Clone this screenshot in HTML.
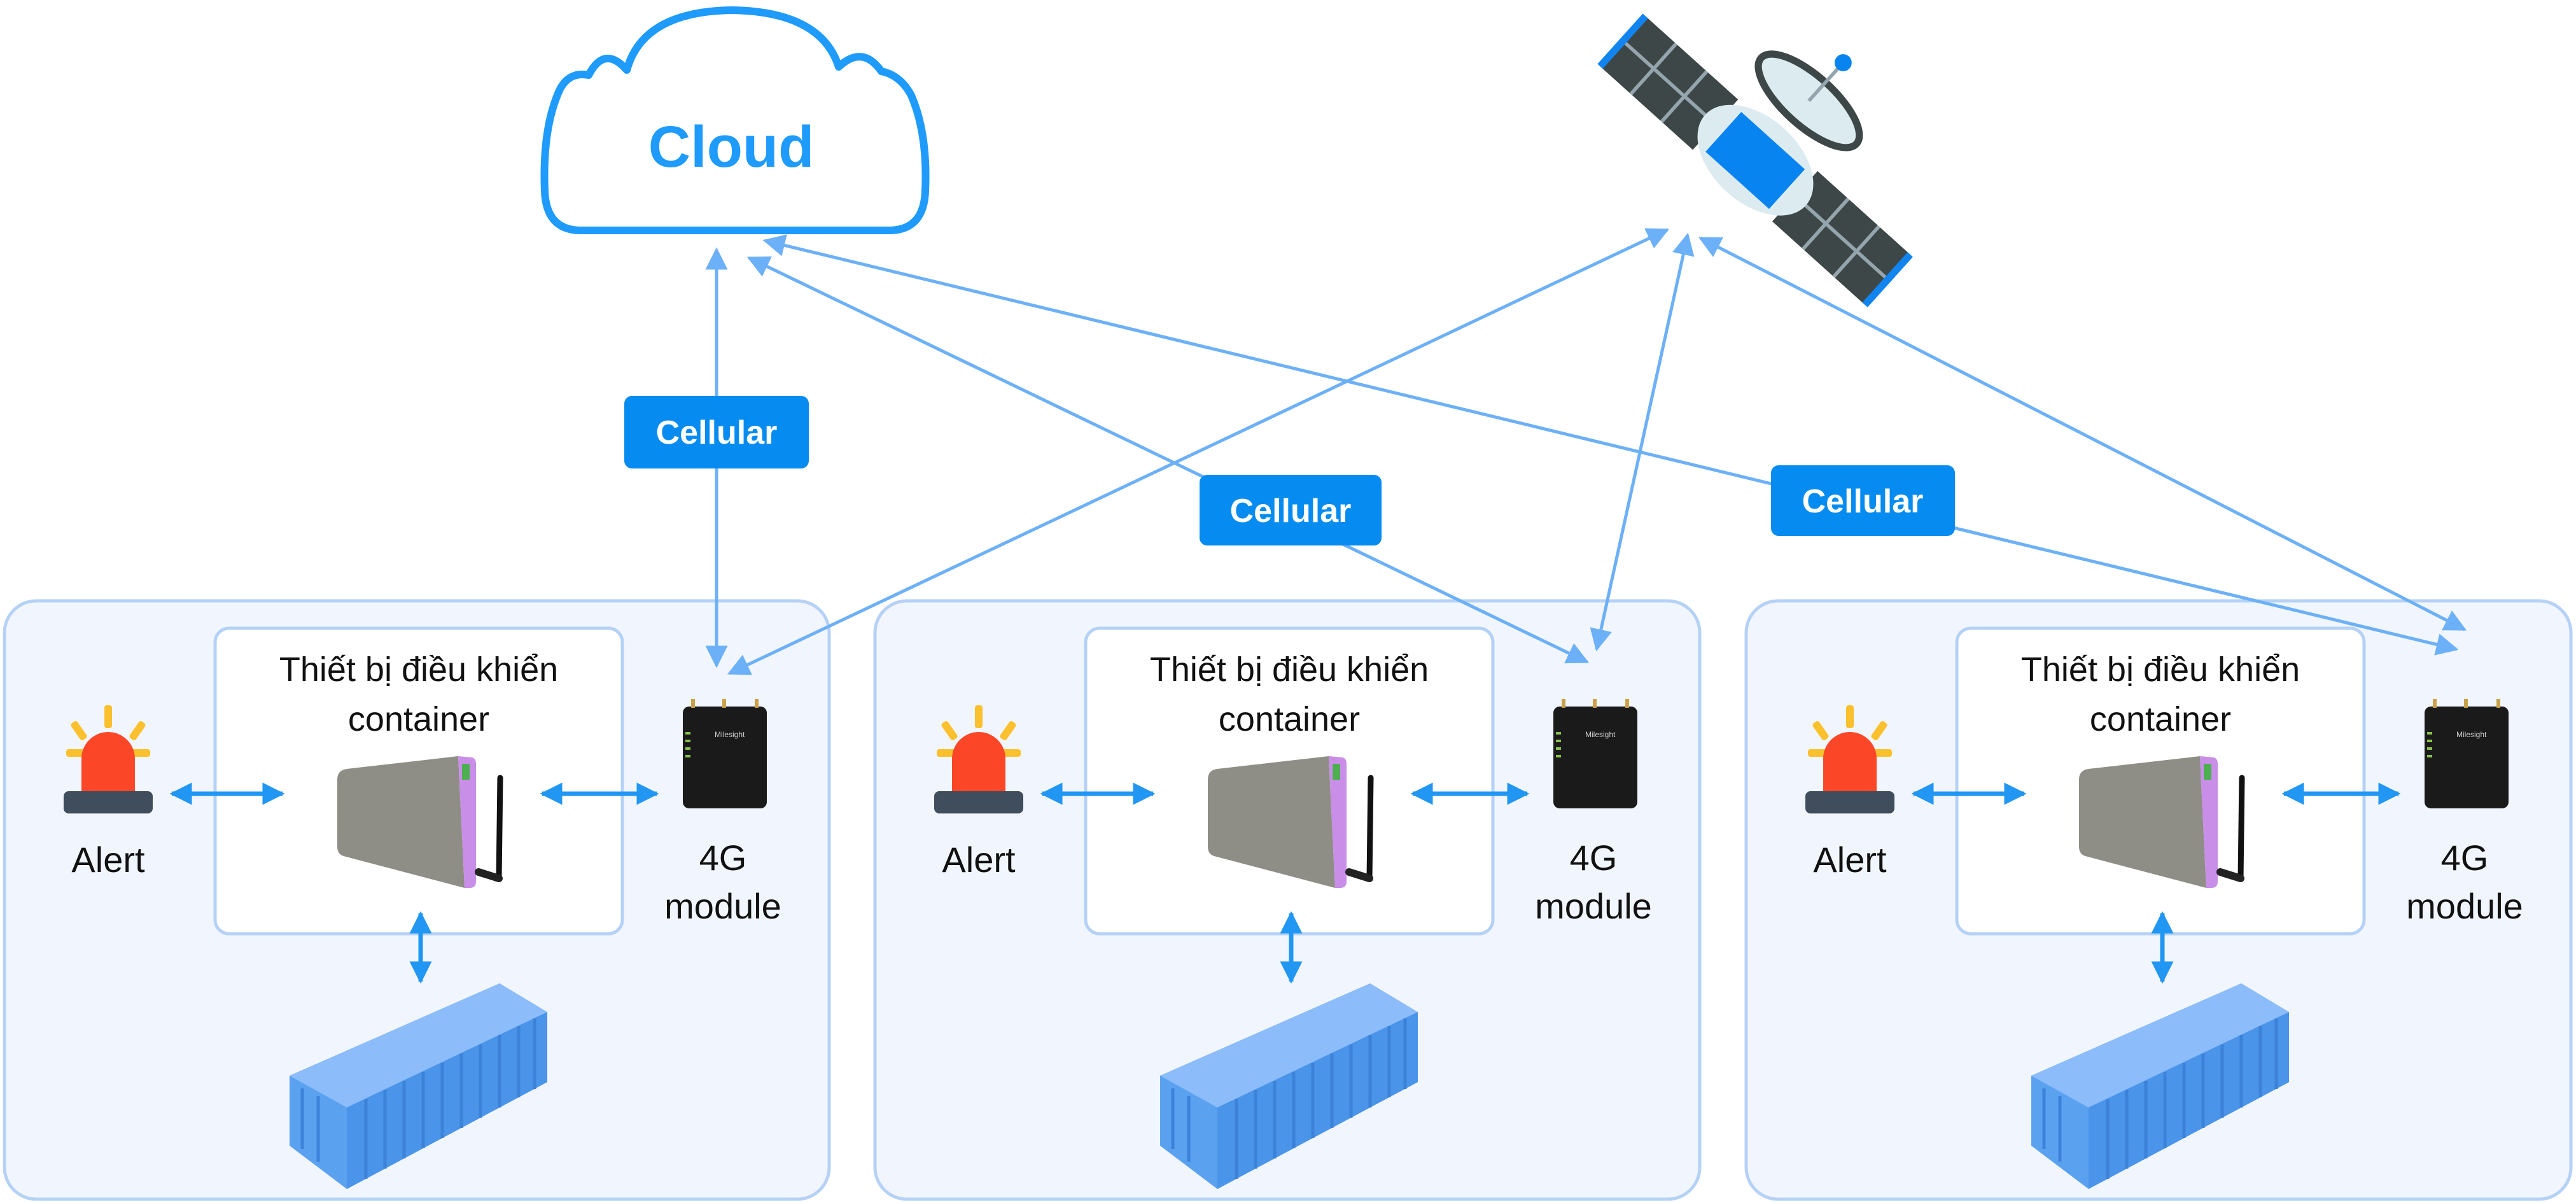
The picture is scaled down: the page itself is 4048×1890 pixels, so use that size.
<!DOCTYPE html>
<html><head><meta charset="utf-8"><style>
html,body{margin:0;padding:0;background:#fff;}
svg{display:block;}
text{font-family:"Liberation Sans",sans-serif;}
</style></head><body>
<svg width="4048" height="1890" viewBox="0 0 4048 1890" xmlns="http://www.w3.org/2000/svg">
<defs>
<marker id="a" viewBox="0 0 10 10" refX="9" refY="5" markerWidth="7" markerHeight="7" orient="auto-start-reverse" markerUnits="strokeWidth">
<path d="M0,0 L10,5 L0,10 Z" fill="#6cb0f8"/></marker>
<marker id="b" viewBox="0 0 10 10" refX="9" refY="5" markerWidth="5" markerHeight="5" orient="auto-start-reverse" markerUnits="strokeWidth">
<path d="M0,0 L10,5 L0,10 Z" fill="#2196f3"/></marker>
<g id="panel">
<rect x="7" y="944" width="1296" height="940" rx="50" fill="#f1f6fe" stroke="#b5d1f6" stroke-width="5"/>
<rect x="338" y="987" width="640" height="480" rx="22" fill="#fff" stroke="#b5d1f6" stroke-width="5"/>
<text x="658" y="1070" font-size="54" text-anchor="middle" fill="#111">Thiết bị điều khiển</text>
<text x="658" y="1148" font-size="54" text-anchor="middle" fill="#111">container</text>
<!-- alert -->
<g fill="#fbc02d">
<rect x="164" y="1108" width="12" height="36" rx="4"/>
<rect x="104" y="1177" width="36" height="12" rx="4"/>
<rect x="200" y="1177" width="36" height="12" rx="4"/>
<rect x="118" y="1132" width="12" height="32" rx="4" transform="rotate(-35 124 1148)"/>
<rect x="210" y="1132" width="12" height="32" rx="4" transform="rotate(35 216 1148)"/>
</g>
<path d="M128,1250 L128,1192 A42,42 0 0 1 212,1192 L212,1250 Z" fill="#fc4628"/>
<rect x="100" y="1243" width="140" height="35" rx="8" fill="#3f4d5c"/>
<text x="170" y="1370" font-size="56" text-anchor="middle" fill="#111">Alert</text>
<!-- arrows -->
<line x1="270" y1="1247" x2="444" y2="1247" stroke="#2196f3" stroke-width="7" marker-start="url(#b)" marker-end="url(#b)"/>
<line x1="852" y1="1247" x2="1032" y2="1247" stroke="#2196f3" stroke-width="7" marker-start="url(#b)" marker-end="url(#b)"/>
<line x1="661" y1="1435" x2="661" y2="1542" stroke="#2196f3" stroke-width="7" marker-start="url(#b)" marker-end="url(#b)"/>
<!-- device -->
<path d="M530,1225 Q530,1210 545,1208 L720,1188 L730,1395 L540,1345 Q530,1342 530,1330 Z" fill="#8f8e86"/>
<path d="M720,1188 L742,1190 Q748,1192 748,1200 L748,1385 Q748,1395 738,1395 L730,1395 Z" fill="#c88ee8"/>
<rect x="726" y="1200" width="12" height="25" fill="#4caf50"/>
<line x1="786" y1="1222" x2="784" y2="1380" stroke="#111" stroke-width="9" stroke-linecap="round"/>
<line x1="752" y1="1370" x2="784" y2="1380" stroke="#222" stroke-width="12" stroke-linecap="round"/>
<!-- router -->
<rect x="1073" y="1110" width="132" height="160" rx="10" fill="#1a1a1a"/>
<rect x="1086" y="1098" width="6" height="14" fill="#c8a24a"/>
<rect x="1135" y="1098" width="6" height="14" fill="#c8a24a"/>
<rect x="1186" y="1098" width="6" height="14" fill="#c8a24a"/>
<g fill="#8bc34a"><rect x="1077" y="1150" width="8" height="4"/><rect x="1077" y="1162" width="8" height="4"/><rect x="1077" y="1174" width="8" height="4"/><rect x="1077" y="1186" width="8" height="4"/></g>
<text x="1123" y="1158" font-size="12" fill="#ccc">Milesight</text>
<text x="1136" y="1367" font-size="56" text-anchor="middle" fill="#111">4G</text>
<text x="1136" y="1443" font-size="56" text-anchor="middle" fill="#111">module</text>
<!-- shipping container -->
<path d="M455,1690 L455,1800 L545,1868 L860,1700 L860,1590 L785,1545 Z" fill="#5aa2f0"/>
<path d="M455,1690 L545,1740 L860,1590 L785,1545 Z" fill="#8cbcf9"/>
<path d="M545,1740 L545,1868 L860,1700 L860,1590 Z" fill="#4a94ea"/>
<g stroke="#3b82d8" stroke-width="5">
<line x1="575" y1="1727" x2="575" y2="1852"/><line x1="605" y1="1712" x2="605" y2="1836"/><line x1="635" y1="1698" x2="635" y2="1820"/><line x1="665" y1="1684" x2="665" y2="1804"/><line x1="695" y1="1670" x2="695" y2="1788"/><line x1="725" y1="1655" x2="725" y2="1772"/><line x1="755" y1="1641" x2="755" y2="1756"/><line x1="785" y1="1626" x2="785" y2="1740"/><line x1="815" y1="1612" x2="815" y2="1724"/><line x1="840" y1="1600" x2="840" y2="1711"/>
<line x1="475" y1="1710" x2="475" y2="1805"/><line x1="500" y1="1722" x2="500" y2="1825"/>
</g>
</g>
</defs>

<use href="#panel"/>
<use href="#panel" transform="translate(1368,0)"/>
<use href="#panel" transform="translate(2737,0)"/>

<!-- cloud -->
<path d="M910,362 Q858,360 856,300 Q852,200 880,140 Q895,112 925,118 Q950,70 985,110 Q1010,18 1150,16 Q1290,18 1318,105 Q1355,70 1385,112 Q1415,118 1432,150 Q1458,210 1454,300 Q1452,360 1400,362 Z" fill="#fff" stroke="#1e9bfc" stroke-width="12" stroke-linejoin="round"/>
<text x="1149" y="262" font-size="92" font-weight="bold" text-anchor="middle" fill="#1e9bfc">Cloud</text>

<!-- satellite -->
<g transform="translate(2760,250) rotate(42) scale(1.12) translate(-2760,-250)">
<rect x="2510" y="205" width="175" height="95" fill="#3e4747"/>
<rect x="2835" y="205" width="175" height="95" fill="#3e4747"/>
<g stroke="#95a5ad" stroke-width="5"><line x1="2510" y1="252" x2="2685" y2="252"/><line x1="2568" y1="205" x2="2568" y2="300"/><line x1="2626" y1="205" x2="2626" y2="300"/>
<line x1="2835" y1="252" x2="3010" y2="252"/><line x1="2893" y1="205" x2="2893" y2="300"/><line x1="2951" y1="205" x2="2951" y2="300"/>
<line x1="2685" y1="252" x2="2835" y2="252"/></g>
<rect x="2505" y="205" width="10" height="95" fill="#1184f0"/>
<rect x="3005" y="205" width="10" height="95" fill="#1184f0"/>
<ellipse cx="2760" cy="252" rx="95" ry="60" fill="#dcebf0"/>
<rect x="2700" y="215" width="120" height="75" fill="#0784f0"/>
<ellipse cx="2760" cy="140" rx="90" ry="35" fill="#dcebf0" stroke="#3e4747" stroke-width="10"/>
<line x1="2760" y1="140" x2="2760" y2="70" stroke="#95a5ad" stroke-width="5"/>
<circle cx="2760" cy="68" r="12" fill="#0784f0"/>
</g>

<!-- connectors -->
<g stroke="#6cb0f8" stroke-width="5" fill="none">
<line x1="1126" y1="392" x2="1126" y2="1046" marker-start="url(#a)" marker-end="url(#a)"/>
<line x1="1177" y1="405" x2="2494" y2="1040" marker-start="url(#a)" marker-end="url(#a)"/>
<line x1="1202" y1="378" x2="3860" y2="1020" marker-start="url(#a)" marker-end="url(#a)"/>
<line x1="2620" y1="361" x2="1146" y2="1058" marker-start="url(#a)" marker-end="url(#a)"/>
<line x1="2652" y1="369" x2="2509" y2="1020" marker-start="url(#a)" marker-end="url(#a)"/>
<line x1="2672" y1="374" x2="3873" y2="989" marker-start="url(#a)" marker-end="url(#a)"/>
</g>

<!-- cellular labels -->
<g font-size="52" font-weight="bold" fill="#fff" text-anchor="middle">
<rect x="981" y="622" width="290" height="114" rx="12" fill="#068cf0"/>
<text x="1126" y="697">Cellular</text>
<rect x="1885" y="746" width="286" height="111" rx="12" fill="#068cf0"/>
<text x="2028" y="820">Cellular</text>
<rect x="2783" y="731" width="289" height="111" rx="12" fill="#068cf0"/>
<text x="2927" y="805">Cellular</text>
</g>
</svg>
</body></html>
